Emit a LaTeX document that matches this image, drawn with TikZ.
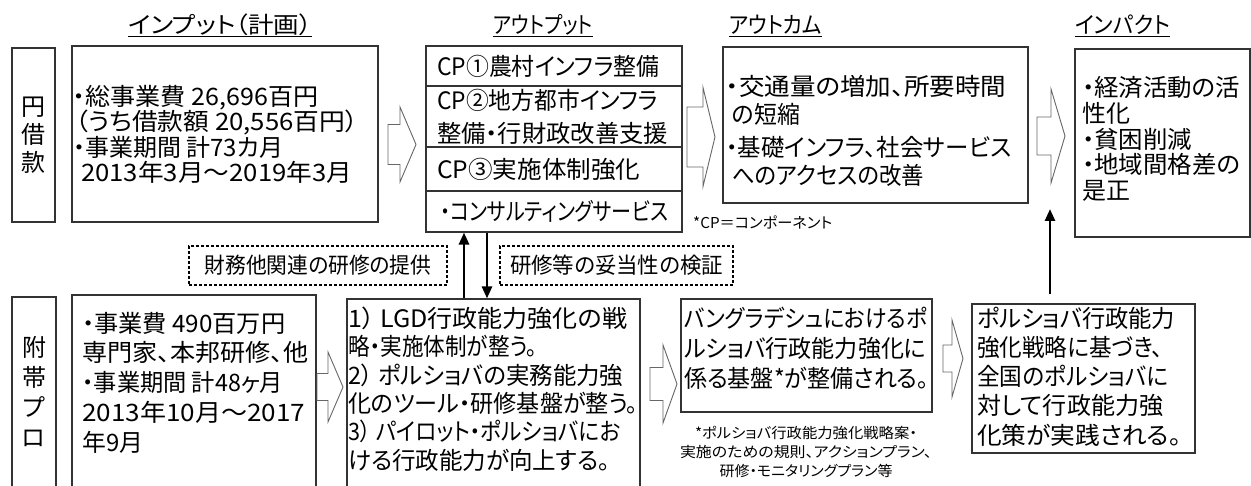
\documentclass[tikz,border=0pt]{standalone}
\usepackage{graphicx}
\usepackage{fontspec}
\setmainfont{Noto Sans CJK JP}[RawFeature={+palt}]
\usetikzlibrary{arrows.meta}
\newcommand\fitw[2]{\resizebox{#1pt}{\height}{#2}}
\newcommand\hollowarrow[6]{%
  \draw[harrow] (#1,#4-#5) -- (#2,#4-#5) -- (#2,#4-#6) -- (#3,#4) -- (#2,#4+#6) -- (#2,#4+#5) -- (#1,#4+#5) -- cycle;}
\tikzset{
  box/.style={draw=black!80, line width=1.1pt, inner sep=0pt},
  dbox/.style={draw=black, line width=1.1pt, dashed, dash pattern=on 3pt off 2pt, inner sep=0pt, align=center,
     font=\fontsize{22}{24}\selectfont},
  txt/.style={inner sep=0pt, anchor=west, align=left, font=\fontsize{24}{25.5}\selectfont},
  vtxt/.style={inner sep=0pt, align=center, font=\fontsize{24}{28}\selectfont},
  hdr/.style={inner sep=0pt, font=\fontsize{23}{24}\selectfont},
  uline/.style={line width=1pt},
  harrow/.style={draw=black!60, line width=0.9pt, fill=white},
  thk/.style={line width=2.6pt, -{Triangle[width=10pt,length=12pt]}},
  note/.style={inner sep=0pt, font=\fontsize{15}{19}\selectfont},
}
\begin{document}
\begin{tikzpicture}[x=1pt,y=-1pt]
\clip (0,0) rectangle (1251,486);
\fill[white] (0,0) rectangle (1251,486);
% headers
\coordinate (ul) at (0,37);
\node[hdr] (h1) at (220,25) {\fitw{184}{インプット（計画）}};
\node[hdr] (h2) at (543,25) {\fitw{100}{アウトプット}};
\node[hdr] (h3) at (775.5,25) {\fitw{93}{アウトカム}};
\node[hdr] (h4) at (1122.5,25) {\fitw{95}{インパクト}};
\foreach \h in {h1,h2,h3,h4}{\draw[uline] (\h.west |- ul) -- (\h.east |- ul);}
% top row boxes
\node[box, minimum width=43, minimum height=174] (en) at (33.5,135) {};
\node[vtxt] (entx) at (en.center) {円\\借\\款};
\node[box, minimum width=306, minimum height=176] (in1) at (225,134) {};
\node[txt] (in1tx) at (73,134.5) {\fitw{245}{・総事業費 26,696百円}\\\hspace*{2pt}\fitw{283}{（うち借款額 20,556百円）}\\\fitw{210}{・事業期間 計73カ月}\\\hspace*{8pt}\fitw{271}{2013年3月～2019年3月}};
\node[box, minimum width=256, minimum height=40] (r1) at (554,66) {};
\node[box, minimum width=256, minimum height=61] (r2) at (554,116.5) {};
\node[box, minimum width=256, minimum height=44] (r3) at (554,169) {};
\node[box, minimum width=256, minimum height=41] (r4) at (554,211.5) {};
\node[txt] (r1tx) at (437,66) {\fitw{222}{CP①農村インフラ整備}};
\node[txt, font=\fontsize{24}{33}\selectfont] (r2tx) at (437,116.5) {\fitw{221}{CP②地方都市インフラ}\\\fitw{231}{整備・行財政改善支援}};
\node[txt] (r3tx) at (437,169) {\fitw{203}{CP③実施体制強化}};
\node[txt] (r4tx) at (440,211.5) {\fitw{228}{・コンサルティングサービス}};
\node[box, minimum width=305, minimum height=156] (outc) at (875.5,125) {};
\node[txt, font=\fontsize{24}{28}\selectfont] (outctx) at (726,130.75) {\fitw{280}{・交通量の増加、所要時間}\\\hspace*{6pt}\fitw{68}{の短縮}\\[5.5pt]\fitw{285}{・基礎インフラ、社会サービス}\\\hspace*{6pt}\fitw{192}{へのアクセスの改善}};
\node[note, anchor=west] (cpnote) at (693,222) {\fitw{139}{*CP＝コンポーネント}};
\node[box, minimum width=175, minimum height=188] (imp) at (1162.5,143) {};
\node[txt, font=\fontsize{24}{25.8}\selectfont] (imptx) at (1082,139) {\fitw{158}{・経済活動の活}\\\fitw{48}{性化}\\\fitw{110}{・貧困削減}\\\fitw{158}{・地域間格差の}\\\fitw{48}{是正}};
% hollow arrows top
\hollowarrow{388}{400}{416}{144.5}{20}{37.5}
\hollowarrow{687}{703}{715}{137}{30}{49.5}
\hollowarrow{1037}{1051}{1065}{136}{19}{47}
% bottom row
\node[box, minimum width=44, minimum height=223] (fuk) at (34,408.5) {};
\node[vtxt, font=\fontsize{24}{30}\selectfont] (fuktx) at (34,392) {附\\帯\\プ\\ロ};
\node[box, minimum width=244, minimum height=225] (in2) at (194,407.5) {};
\node[txt, font=\fontsize{24}{29.7}\selectfont] (in2tx) at (82,382.5) {\fitw{203}{・事業費 490百万円}\\\fitw{226}{専門家、本邦研修、他}\\\fitw{201}{・事業期間 計48ヶ月}\\\fitw{223}{2013年10月～2017}\\\fitw{61}{年9月}};
\node[box, minimum width=293, minimum height=221] (lgd) at (493.5,409.5) {};
\node[txt, font=\fontsize{24}{28.4}\selectfont] (lgdtx) at (348,389) {\fitw{279}{1） LGD行政能力強化の戦}\\\fitw{189}{略・実施体制が整う。}\\\fitw{275}{2） ポルショバの実務能力強}\\\fitw{290}{化のツール・研修基盤が整う。}\\\fitw{272}{3） パイロット・ポルショバにお}\\\fitw{262}{ける行政能力が向上する。}};
\node[box, minimum width=251, minimum height=113] (bng) at (806.5,355.5) {};
\node[txt, font=\fontsize{24}{30}\selectfont] (bngtx) at (684,348) {\fitw{243}{バングラデシュにおけるポ}\\\fitw{242}{ルショバ行政能力強化に}\\\fitw{245}{係る基盤*が整備される。}};
\node[note, align=center, font=\fontsize{14.5}{19}\selectfont] (foot) at (806,452) {\fitw{222}{*ポルショバ行政能力強化戦略案・}\\\fitw{252}{実施のための規則、アクションプラン、}\\\fitw{173}{研修・モニタリングプラン等}};
\node[box, minimum width=223, minimum height=149] (fin) at (1083.5,378.5) {};
\node[txt, font=\fontsize{24}{29.25}\selectfont] (fintx) at (977,376.5) {\fitw{198}{ポルショバ行政能力}\\\fitw{186}{強化戦略に基づき、}\\\fitw{191}{全国のポルショバに}\\\fitw{186}{対して行政能力強}\\\fitw{204}{化策が実践される。}};
% dashed labels
\node[dbox, minimum width=258, minimum height=39] (d1) at (318,265.5) {\fitw{227}{財務他関連の研修の提供}};
\node[dbox, minimum width=233, minimum height=39] (d2) at (616.5,265.5) {\fitw{213}{研修等の妥当性の検証}};
% hollow arrows bottom
\hollowarrow{317}{328}{343}{387}{13.5}{35}
\hollowarrow{650}{663}{677}{384}{16.5}{39}
\hollowarrow{943}{952}{963}{358.5}{13.5}{38.5}
% thick arrows
\coordinate (ux) at (464,0);
\coordinate (dx) at (487,0);
\coordinate (bx) at (1050,209);
\draw[thk] (ux |- lgd.north) -- (ux |- r4.south);
\draw[thk] (dx |- r4.south) -- (dx |- lgd.north);
\draw[thk, shorten <=9pt] (bx |- fin.north) -- (bx);
\end{tikzpicture}
\end{document}
